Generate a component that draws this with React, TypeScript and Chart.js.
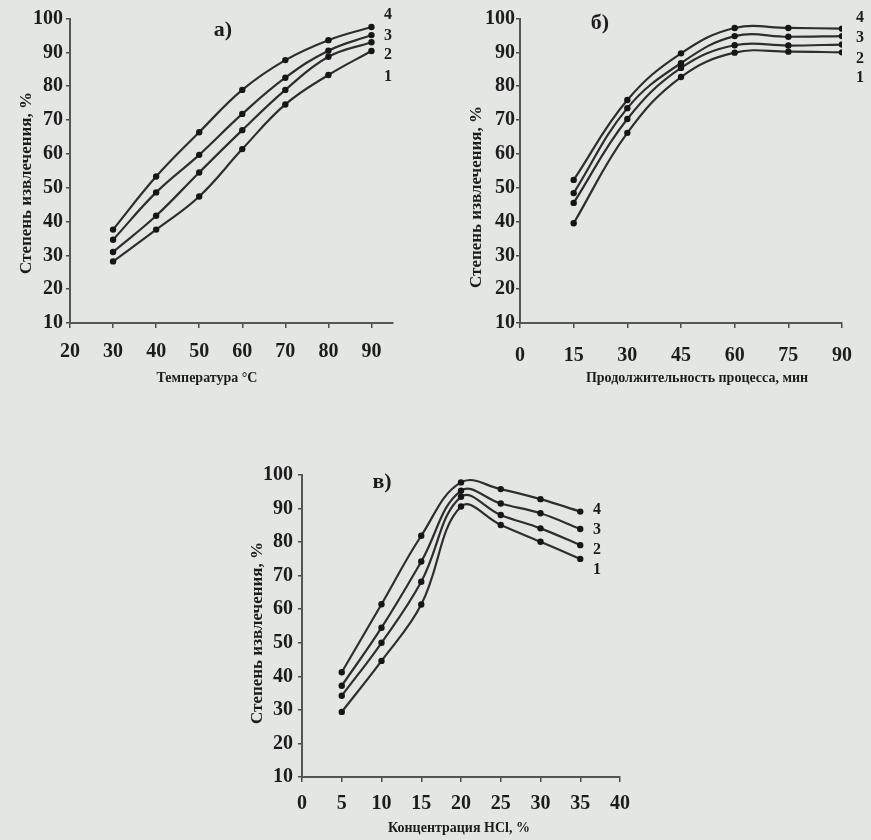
import React, { useEffect, useRef } from "react";
import { Chart, registerables } from "chart.js";

Chart.register(...registerables);

// ---------- Data ----------
const seriesNames = ["1", "2", "3", "4"];
const yTicks = [10, 20, 30, 40, 50, 60, 70, 80, 90, 100];

// a) temperature
const tempX = [30, 40, 50, 60, 70, 80, 90];
const tempS1 = [28.2, 37.6, 47.4, 61.4, 74.6, 83.3, 90.4];
const tempS2 = [31.0, 41.7, 54.5, 67.0, 78.9, 88.7, 93.0];
const tempS3 = [34.6, 48.6, 59.7, 71.8, 82.5, 90.5, 95.1];
const tempS4 = [37.6, 53.3, 66.4, 78.9, 87.7, 93.6, 97.5];
const tempTicks = [20, 30, 40, 50, 60, 70, 80, 90];

// б) duration
const timeX = [15, 30, 45, 60, 75, 90];
const timeS1 = [39.5, 66.2, 82.7, 89.9, 90.2, 90.0];
const timeS2 = [45.5, 70.3, 85.4, 92.1, 92.0, 92.3];
const timeS3 = [48.4, 73.5, 86.8, 94.8, 94.6, 94.8];
const timeS4 = [52.3, 75.9, 89.7, 97.2, 97.2, 97.0];
const timeTicks = [0, 15, 30, 45, 60, 75, 90];

// в) HCl concentration
const hclX = [5, 10, 15, 20, 25, 30, 35];
const hclS1 = [29.4, 44.6, 61.4, 90.6, 85.1, 80.1, 75.0];
const hclS2 = [34.2, 50.0, 68.2, 93.5, 88.1, 84.1, 79.1];
const hclS3 = [37.2, 54.5, 74.2, 95.3, 91.5, 88.6, 83.9];
const hclS4 = [41.2, 61.5, 81.9, 97.8, 95.8, 92.8, 89.1];
const hclTicks = [0, 5, 10, 15, 20, 25, 30, 35, 40];

const yTitle = "Степень извлечения, %";

// ---------- Styles ----------
const FONT = "'Liberation Serif', 'Times New Roman', serif";
const INK = "#1c1c1c";
const LINE = "#2e2e2e";
const BG = "#e4e6e4";

type PanelCfg = {
  x: number[];
  series: number[][];
  xTicks: number[];
  xMin: number;
  xMax: number;
  panelLabel: string;
  xTitle: string;
  w: number;
  h: number;
  area: { left: number; right: number; top: number; bottom: number };
  yPad: number;
  xPad: number;
  labelPos: [number, number];
  xTitlePos: [number, number];
  yTitlePos: [number, number];
  numX: number;
  numY: number[];
};

const panels: { left: number; top: number; cfg: PanelCfg }[] = [
  {
    left: 0,
    top: 0,
    cfg: {
      x: tempX,
      series: [tempS1, tempS2, tempS3, tempS4],
      xTicks: tempTicks,
      xMin: 20,
      xMax: 95,
      panelLabel: "а)",
      xTitle: "Температура °C",
      w: 430,
      h: 395,
      area: { left: 70, right: 393, top: 18.5, bottom: 323 },
      yPad: 3,
      xPad: 12,
      labelPos: [223, 30],
      xTitlePos: [207, 378],
      yTitlePos: [27, 183],
      numX: 388,
      numY: [77, 55, 36, 15],
    },
  },
  {
    left: 430,
    top: 0,
    cfg: {
      x: timeX,
      series: [timeS1, timeS2, timeS3, timeS4],
      xTicks: timeTicks,
      xMin: 0,
      xMax: 90,
      panelLabel: "б)",
      xTitle: "Продолжительность процесса, мин",
      w: 441,
      h: 395,
      area: { left: 90, right: 412, top: 18.5, bottom: 323 },
      yPad: 1,
      xPad: 16,
      labelPos: [170, 23],
      xTitlePos: [267, 378],
      yTitlePos: [47, 197],
      numX: 430,
      numY: [78, 59, 38, 18],
    },
  },
  {
    left: 230,
    top: 440,
    cfg: {
      x: hclX,
      series: [hclS1, hclS2, hclS3, hclS4],
      xTicks: hclTicks,
      xMin: 0,
      xMax: 40,
      panelLabel: "в)",
      xTitle: "Концентрация HCl, %",
      w: 420,
      h: 400,
      area: { left: 72, right: 390, top: 35, bottom: 337 },
      yPad: 5,
      xPad: 10,
      labelPos: [152, 42],
      xTitlePos: [229, 388],
      yTitlePos: [28, 193],
      numX: 367,
      numY: [130, 110, 90, 70],
    },
  },
];

function makeTextPlugin(cfg: PanelCfg) {
  return {
    id: "panelText",
    afterDraw(chart: any) {
      const ctx = chart.ctx as CanvasRenderingContext2D;
      ctx.save();
      ctx.fillStyle = INK;
      ctx.textAlign = "center";
      ctx.textBaseline = "middle";
      ctx.font = `bold 22px ${FONT}`;
      ctx.fillText(cfg.panelLabel, cfg.labelPos[0], cfg.labelPos[1]);
      ctx.font = `bold 14px ${FONT}`;
      ctx.fillText(cfg.xTitle, cfg.xTitlePos[0], cfg.xTitlePos[1]);
      ctx.save();
      ctx.translate(cfg.yTitlePos[0], cfg.yTitlePos[1]);
      ctx.rotate(-Math.PI / 2);
      ctx.font = `bold 17px ${FONT}`;
      ctx.fillText(yTitle, 0, 0);
      ctx.restore();
      ctx.font = `bold 16px ${FONT}`;
      seriesNames.forEach((n, i) => {
        ctx.fillText(n, cfg.numX, cfg.numY[i]);
      });
      ctx.restore();
    },
  };
}

function Panel({ cfg }: { cfg: PanelCfg }) {
  const ref = useRef<HTMLCanvasElement | null>(null);
  useEffect(() => {
    if (!ref.current) return;
    const a = cfg.area;
    const chart = new Chart(ref.current, {
      type: "line",
      data: {
        datasets: cfg.series.map((s, i) => ({
          label: seriesNames[i],
          data: cfg.x.map((xv, j) => ({ x: xv, y: s[j] })),
          borderColor: LINE,
          backgroundColor: "#161616",
          borderWidth: 2.2,
          pointRadius: 3.2,
          pointBorderWidth: 0,
          pointStyle: "circle",
          tension: 0.4,
          fill: false,
        })),
      },
      options: {
        animation: false,
        responsive: false,
        maintainAspectRatio: false,
        events: [],
        layout: {
          padding: { left: 0, top: a.top, right: cfg.w - a.right, bottom: 0 },
        },
        plugins: {
          legend: { display: false },
          tooltip: { enabled: false },
          title: { display: false },
        },
        scales: {
          x: {
            type: "linear",
            min: cfg.xMin,
            max: cfg.xMax,
            afterBuildTicks: (scale: any) => {
              scale.ticks = cfg.xTicks.map((v) => ({ value: v }));
            },
            afterFit: (scale: any) => {
              scale.height = cfg.h - a.bottom;
            },
            ticks: {
              autoSkip: false,
              maxRotation: 0,
              padding: cfg.xPad,
              color: INK,
              font: { family: FONT, size: 20, weight: "bold" },
            },
            grid: {
              display: true,
              drawOnChartArea: false,
              drawTicks: true,
              tickLength: 5,
              color: "#4a4a4a",
              lineWidth: 1.5,
            },
            border: { display: true, color: "#555", width: 2, dash: [2, 1] },
          },
          y: {
            type: "linear",
            min: 10,
            max: 100,
            afterBuildTicks: (scale: any) => {
              scale.ticks = yTicks.map((v) => ({ value: v }));
            },
            afterFit: (scale: any) => {
              scale.width = a.left;
            },
            ticks: {
              autoSkip: false,
              padding: cfg.yPad,
              color: INK,
              font: { family: FONT, size: 20, weight: "bold" },
            },
            grid: {
              display: true,
              drawOnChartArea: false,
              drawTicks: true,
              tickLength: 4,
              color: "#4a4a4a",
              lineWidth: 1.5,
            },
            border: { display: true, color: "#555", width: 2, dash: [2, 1] },
          },
        },
      } as any,
      plugins: [makeTextPlugin(cfg)],
    });
    return () => chart.destroy();
  }, [cfg]);
  return <canvas ref={ref} width={cfg.w} height={cfg.h} style={{ display: "block" }} />;
}

export default function App() {
  return (
    <div
      style={{
        position: "fixed",
        left: 0,
        top: 0,
        width: 871,
        height: 840,
        background: BG,
        overflow: "hidden",
      }}
    >
      {panels.map((p, i) => (
        <div key={i} style={{ position: "absolute", left: p.left, top: p.top }}>
          <Panel cfg={p.cfg} />
        </div>
      ))}
    </div>
  );
}
